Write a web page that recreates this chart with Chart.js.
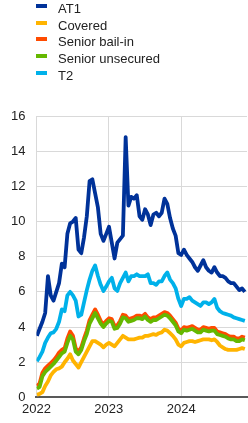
<!DOCTYPE html>
<html>
<head>
<meta charset="utf-8">
<script src="https://cdn.jsdelivr.net/npm/chart.js@4/dist/chart.umd.min.js"></script>
<style>
  html, body { margin: 0; padding: 0; background: #fff; }
  #wrap { position: relative; width: 248px; height: 423px; overflow: hidden; }
  #chart { position: absolute; left: 0; top: 0; }
  #legend { position: absolute; left: 36px; top: 1.2px; font-family: "Liberation Sans", Arial, sans-serif; font-size: 13px; color: #222; }
  .item { position: relative; height: 16.6px; line-height: 16.6px; padding-left: 22px; white-space: nowrap; }
  .item i { position: absolute; left: 0; top: 3px; width: 11px; height: 4px; }
</style>
</head>
<body>
<div id="wrap">
  <canvas id="chart" width="248" height="423"></canvas>
  <div id="legend"></div>
</div>
<script>
"use strict";
// fortnightly observations
const dates = [
  "2022-01-03", "2022-01-17", "2022-01-31", "2022-02-14", "2022-02-28", "2022-03-14", "2022-03-28", "2022-04-11",
  "2022-04-25", "2022-05-09", "2022-05-23", "2022-06-06", "2022-06-20", "2022-07-04", "2022-07-18", "2022-08-01",
  "2022-08-15", "2022-08-29", "2022-09-12", "2022-09-26", "2022-10-10", "2022-10-24", "2022-11-07", "2022-11-21",
  "2022-12-05", "2022-12-19",
  "2023-01-02", "2023-01-16", "2023-01-30", "2023-02-13", "2023-02-27", "2023-03-13", "2023-03-27", "2023-04-10",
  "2023-04-24", "2023-05-08", "2023-05-22", "2023-06-05", "2023-06-19", "2023-07-03", "2023-07-17", "2023-07-31",
  "2023-08-14", "2023-08-28", "2023-09-11", "2023-09-25", "2023-10-09", "2023-10-23", "2023-11-06", "2023-11-20",
  "2023-12-04", "2023-12-18",
  "2024-01-01", "2024-01-15", "2024-01-29", "2024-02-12", "2024-02-26", "2024-03-11", "2024-03-25", "2024-04-08",
  "2024-04-22", "2024-05-06", "2024-05-20", "2024-06-03", "2024-06-17", "2024-07-01", "2024-07-15", "2024-07-29",
  "2024-08-12", "2024-08-26", "2024-09-09", "2024-09-23", "2024-10-07", "2024-10-21", "2024-11-04", "2024-11-18"
];
const at1 = [
  3.5, 3.9, 4.3, 4.8, 6.9, 5.8, 5.5, 6.0, 6.5, 7.6,
  7.4, 9.3, 9.9, 10.0, 10.2, 8.4, 8.2, 9.1, 10.3, 12.3,
  12.4, 11.6, 10.8, 9.3, 8.9, 9.3, 9.7, 8.8, 7.9, 8.8,
  9.0, 9.2, 14.8, 10.9, 11.4, 11.3, 11.5, 10.3, 10.1, 10.7,
  10.4, 9.8, 10.4, 10.5, 10.3, 10.5, 11.3, 11.0, 10.2, 9.6,
  9.2, 8.2, 8.1, 8.4, 8.1, 7.9, 7.7, 7.4, 7.2, 7.5,
  7.8, 7.4, 7.2, 7.1, 7.4, 7.1, 6.9, 6.9, 6.8, 6.6,
  6.5, 6.5, 6.3, 6.1, 6.2, 6.0
];
const covered = [
  0.15, 0.2, 0.3, 0.65, 0.9, 1.25, 1.45, 1.6, 1.65, 1.75,
  2.0, 2.2, 2.45, 2.1, 1.9, 1.7, 2.0, 2.3, 2.6, 2.9,
  3.2, 3.2, 3.1, 3.0, 2.85, 3.0, 3.1, 3.0, 2.9, 3.1,
  3.3, 3.5, 3.4, 3.3, 3.3, 3.3, 3.35, 3.4, 3.4, 3.5,
  3.5, 3.55, 3.6, 3.55, 3.65, 3.7, 3.85, 3.8, 3.65, 3.5,
  3.3, 3.0, 2.9, 3.1, 3.15, 3.2, 3.2, 3.15, 3.2, 3.25,
  3.3, 3.3, 3.3, 3.25, 3.3, 3.15, 2.95, 2.85, 2.75, 2.7,
  2.7, 2.7, 2.7, 2.75, 2.8, 2.75
];
const seniorBailIn = [
  0.65, 0.8, 1.4, 1.65, 1.8, 1.95, 2.1, 2.3, 2.55, 2.7,
  2.8, 3.35, 3.75, 3.5, 2.8, 2.6, 2.85, 3.35, 3.8, 4.4,
  4.7, 5.0, 4.7, 4.35, 4.15, 4.35, 4.5, 4.45, 4.05, 4.1,
  4.35, 4.7, 4.65, 4.45, 4.5, 4.55, 4.65, 4.65, 4.6, 4.75,
  4.55, 4.45, 4.55, 4.55, 4.65, 4.75, 4.85, 4.8, 4.65, 4.45,
  4.25, 3.9, 3.8, 4.0, 3.95, 4.0, 4.05, 3.95, 3.85, 3.85,
  4.0, 3.95, 3.9, 3.95, 3.95, 3.75, 3.7, 3.65, 3.6, 3.5,
  3.45, 3.45, 3.35, 3.35, 3.45, 3.4
];
const seniorUnsecured = [
  0.5, 0.6, 1.2, 1.45, 1.6, 1.75, 1.9, 2.1, 2.3, 2.5,
  2.6, 3.1, 3.5, 3.3, 2.6, 2.45, 2.7, 3.2, 3.6, 4.2,
  4.5, 4.8, 4.5, 4.2, 4.0, 4.2, 4.35, 4.3, 3.9, 3.95,
  4.2, 4.55, 4.5, 4.3, 4.35, 4.4, 4.5, 4.5, 4.45, 4.6,
  4.4, 4.3, 4.4, 4.4, 4.5, 4.6, 4.7, 4.65, 4.5, 4.3,
  4.1, 3.75, 3.65, 3.85, 3.8, 3.85, 3.9, 3.8, 3.7, 3.7,
  3.85, 3.8, 3.75, 3.8, 3.8, 3.6, 3.55, 3.5, 3.45, 3.35,
  3.3, 3.3, 3.2, 3.2, 3.3, 3.25
];
const t2 = [
  2.05, 2.3, 2.6, 3.1, 3.4, 3.65, 3.7, 3.9, 4.3, 5.0,
  4.9, 5.8, 6.0, 5.8, 5.5, 4.6, 4.7, 5.4, 6.1, 6.7,
  7.2, 7.5, 6.9, 6.4, 6.05, 6.3, 6.6, 6.8, 6.2, 6.05,
  6.5, 6.8, 7.1, 6.6, 6.9, 6.9, 7.0, 6.9, 6.9, 6.9,
  7.0, 6.5, 6.5, 6.4, 6.6, 6.6, 6.9, 7.1, 6.7, 6.5,
  6.2, 5.6, 5.2, 5.6, 5.6, 5.7, 5.5, 5.4, 5.3, 5.2,
  5.4, 5.4, 5.3, 5.4, 5.6, 5.1, 4.9, 4.8, 4.75, 4.7,
  4.65, 4.55, 4.5, 4.45, 4.4, 4.35
];
const seriesLabels = ["AT1", "Covered", "Senior bail-in", "Senior unsecured", "T2"];
const seriesColors = ["#003299", "#ffb400", "#ff4b00", "#65b800", "#00b1ea"];
const yTicks = [0, 2, 4, 6, 8, 10, 12, 14, 16];
const xTicks = [2022, 2023, 2024];

const toYear = (s) => {
    const d = new Date(s + "T00:00:00Z");
    const y = d.getUTCFullYear();
    const start = Date.UTC(y, 0, 1);
    const end = Date.UTC(y + 1, 0, 1);
    return y + (d.getTime() - start) / (end - start);
};
const xs = dates.map(toYear);
const pts = (vals) => vals.map((v, i) => ({ x: xs[i], y: v }));

const allSeries = [at1, covered, seniorBailIn, seniorUnsecured, t2];
// AT1 on top, then T2, unsecured over bail-in, covered at the back
const drawOrder = [0, 4, 3, 2, 1];

const legendEl = document.getElementById("legend");
seriesLabels.forEach((name, i) => {
    const row = document.createElement("div");
    row.className = "item";
    row.innerHTML = '<i style="background:' + seriesColors[i] + '"></i>' + name;
    legendEl.appendChild(row);
});

const tickFont = { family: "Liberation Sans, Arial", size: 13 };

const chartConfig = {
    type: "line",
    data: {
        datasets: allSeries.map((vals, i) => ({
            label: seriesLabels[i],
            data: pts(vals),
            borderColor: seriesColors[i],
            backgroundColor: seriesColors[i],
            borderWidth: 3.8,
            pointRadius: 0,
            tension: 0,
            borderJoinStyle: "round",
            order: drawOrder[i],
        })),
    },
    options: {
        responsive: false,
        animation: false,
        devicePixelRatio: 1,
        layout: { padding: { top: 116, left: 0, right: 1, bottom: 2 } },
        plugins: { legend: { display: false }, tooltip: { enabled: false } },
        scales: {
            x: {
                type: "linear",
                min: 2022,
                max: xs[xs.length - 1] + 0.03,
                afterBuildTicks: (axis) => {
                    axis.ticks = xTicks.map((v) => ({ value: v }));
                },
                ticks: {
                    callback: (v) => String(v),
                    maxRotation: 0,
                    padding: 4,
                    color: "#222",
                    font: tickFont,
                },
                grid: { color: "#d9d9d9", lineWidth: 1, drawTicks: false },
                border: { color: "#595959", width: 2 },
            },
            y: {
                min: 0,
                max: 16,
                afterBuildTicks: (axis) => {
                    axis.ticks = yTicks.map((v) => ({ value: v }));
                },
                ticks: {
                    padding: 11,
                    color: "#222",
                    font: tickFont,
                },
                grid: { color: "#d9d9d9", lineWidth: 1, drawTicks: false },
                border: { display: false },
            },
        },
    },
};
new Chart(document.getElementById("chart"), chartConfig);
</script>
</body>
</html>
